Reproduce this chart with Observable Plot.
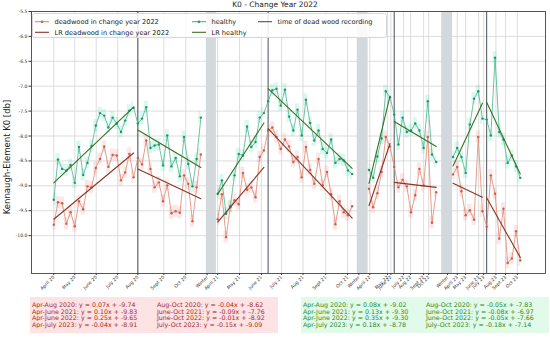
<!DOCTYPE html>
<html><head><meta charset="utf-8">
<script src="https://cdn.jsdelivr.net/npm/d3@7"></script>
<script src="https://cdn.jsdelivr.net/npm/@observablehq/plot@0.6"></script>
<style>
body{margin:0;background:#fff;font-family:"DejaVu Sans",sans-serif;}
#wrap{position:relative;width:550px;height:340px;overflow:hidden;}
#title{position:absolute;left:0;width:550px;top:0px;text-align:center;font-size:7.5px;color:#222;line-height:10px;}
#ylab{position:absolute;left:7px;top:157px;transform:translate(-50%,-50%) rotate(-90deg);font-size:8.5px;white-space:nowrap;color:#222;}
.eqbox{position:absolute;top:297px;height:36px;}
.eq{position:absolute;font-size:6.3px;white-space:pre;line-height:6.7px;}
#legend{position:absolute;left:32px;top:13px;}
</style></head><body><div id="wrap">
<div id="chart"></div>
<div id="title">K0 - Change Year 2022</div>
<div id="ylab">Kennaugh-Element K0 [db]</div>
<svg id="legend" width="356" height="26"></svg>
</div>
<script>
// ---- data (acquisition index within each segment, values in dB) ----
const periods = ["Apr-Aug 2020","Aug-Oct 2020","Apr-June 2021","June-Oct 2021","Apr-June 2022","June-Oct 2022","Apr-July 2023","July-Oct 2023"];
const segYear = [2020,2020,2021,2021,2022,2022,2023,2023];
const segStart = [0, 20, 39, 51, 75, 81, 95, 103];
const recordingPos = [20, 51, 81, 103];
const winterStart = [36.3, 72.2, 92.3];
const winterEnd = [38.7, 74.8, 94.9];

const h20a = [-9.28,-8.47,-8.66,-8.69,-8.58,-8.94,-8.22,-8.78,-8.54,-8.20,-7.79,-7.54,-7.59,-7.83,-7.63,-7.75,-7.92,-7.69,-7.49,-7.43];
const h20b = [-7.75,-7.65,-7.42,-8.24,-8.19,-8.17,-8.59,-7.99,-8.61,-8.44,-8.81,-8.02,-8.56,-9.01,-8.46,-7.63];
const h21a = [-9.16,-8.89,-9.56,-9.41,-8.79,-8.36,-8.39,-7.81,-8.22,-8.12,-7.63,-7.54];
const h21b = [-7.30,-7.08,-7.05,-7.39,-7.07,-7.61,-7.89,-7.47,-7.99,-7.27,-7.74,-8.09,-7.89,-8.26,-8.34,-8.07,-8.54,-8.46,-8.49,-8.69,-8.76];
const h22a = [-8.68,-8.84,-8.41,-8.05,-7.10,-7.22];
const h22b = [-7.57,-8.17,-7.63,-7.92,-7.89,-7.75,-7.89,-8.24,-7.30,-8.37,-8.52];
const h23a = [-8.42,-8.24,-8.42,-8.74,-7.77,-7.25,-7.10,-7.65];
const h23b = [-7.67,-7.99,-6.43,-7.92,-8.07,-8.54,-8.39,-8.61,-8.84];

const d20a = [-9.78,-9.33,-9.35,-9.76,-9.53,-9.81,-9.31,-9.47,-9.01,-9.03,-8.64,-8.46,-8.21,-8.62,-8.38,-8.39,-8.89,-8.73,-8.36,-8.83];
const d20b = [-8.44,-8.57,-8.09,-8.66,-9.03,-8.93,-9.31,-8.99,-9.55,-9.51,-9.54,-8.79,-8.96,-9.71,-9.03,-8.37];
const d21a = [-9.67,-9.17,-10.03,-9.43,-9.29,-9.37,-8.74,-9.08,-9.03,-9.23,-8.42,-8.29];
const d21b = [-7.89,-7.83,-8.02,-8.26,-8.07,-8.21,-8.52,-8.42,-8.83,-8.22,-8.68,-8.96,-8.46,-8.99,-8.72,-9.17,-9.77,-9.31,-9.53,-9.59,-9.41];
const d22a = [-9.06,-9.43,-9.15,-8.72,-8.02,-8.21];
const d22b = [-8.62,-9.03,-8.88,-9.01,-9.53,-9.19,-8.66,-8.99,-8.02,-9.74,-9.13];
const d23a = [-8.77,-8.62,-9.11,-9.59,-9.49,-9.68,-8.02,-9.51];
const d23b = [-9.82,-8.79,-9.16,-10.06,-9.46,-10.55,-10.46,-9.91,-10.50];

const deadSlope = [0.07,-0.04,0.10,-0.09,0.25,-0.01,-0.04,-0.15];
const deadIntercept = [-9.74,-8.62,-9.83,-7.76,-9.65,-8.92,-8.91,-9.09];
const healthySlope = [0.08,-0.05,0.13,-0.08,0.35,-0.05,0.18,-0.18];
const healthyIntercept = [-9.02,-7.83,-9.30,-6.97,-9.30,-7.66,-8.78,-7.14];

const tickPos = [0,5,10.1,15.2,20,26.2,31.4,36.5,39,44.2,49.4,54.2,59.3,64.7,69.9,72.6,75.2,79.4,80.2,83.2,84.9,88,89.2,93.7,96,98,101.1,102.3,105.2,107.5,110.3];
const tickLabels = ["April 20","May 20","June 20","July 20","Aug 20","Sept 20","Oct 20","Winter","April 21","May 21","June 21","July 21","Aug 21","Sept 21","Oct 21","Winter","April 22","May 22","June 22","July 22","Aug 22","Sept 22","Oct 22","Winter","April 23","May 23","June 23","July 23","Aug 23","Sept 23","Oct 23"];
const yTicks = [-10.0,-9.5,-9.0,-8.5,-8.0,-7.5,-7.0,-6.5,-6.0,-5.5];

// ---- derived tables ----
const healthySegs = [h20a,h20b,h21a,h21b,h22a,h22b,h23a,h23b];
const deadSegs = [d20a,d20b,d21a,d21b,d22a,d22b,d23a,d23b];
const rowsOf = segs => segs.flatMap((vals,s) => vals.map((v,k) => ({u: segStart[s]+k, v, seg: s, year: segYear[s]})));
const healthy = rowsOf(healthySegs);
const dead = rowsOf(deadSegs);
const lrOf = (segs, a, b) => segs.flatMap((vals,s) => [1, vals.length].map(k => ({u: segStart[s]+k-1, v: a[s]*k + b[s], seg: s})));
const lrHealthy = lrOf(healthySegs, healthySlope, healthyIntercept);
const lrDead = lrOf(deadSegs, deadSlope, deadIntercept);
const winters = winterStart.map((s,i) => ({x1: s, x2: winterEnd[i]}));
const labelByPos = new Map(tickPos.map((p,i) => [p, tickLabels[i]]));

const G_LINE = "#45b58d", G_DOT = "#2f8f6c", G_FILL = "#3ee0b0";
const R_LINE = "#e0856f", R_DOT = "#c4624d", R_FILL = "#f08080";
const LR_G = "#3a6e24", LR_R = "#8b3524";

const chart = Plot.plot({
  width: 550, height: 292,
  marginLeft: 31, marginRight: 5, marginTop: 11, marginBottom: 19,
  style: {fontFamily: "DejaVu Sans, sans-serif", fontSize: "4.6px", background: "transparent", color: "#333"},
  x: {domain: [-5.3, 117]},
  y: {domain: [-10.76, -5.5]},
  marks: [
    Plot.gridX(tickPos, {stroke: "#d4d4d4", strokeOpacity: 1, strokeWidth: 0.8}),
    Plot.gridY(yTicks, {stroke: "#d4d4d4", strokeOpacity: 1, strokeWidth: 0.8}),
    Plot.rect(winters, {x1: "x1", x2: "x2", fill: "#d3d8dc"}),
    Plot.ruleX(recordingPos, {stroke: "#4b5157", strokeWidth: 1}),
    Plot.areaY(healthy, {x: "u", y1: d => d.v - 0.12, y2: d => d.v + 0.12, z: "seg", curve: "step", fill: G_FILL, fillOpacity: 0.2}),
    Plot.areaY(dead, {x: "u", y1: d => d.v - 0.12, y2: d => d.v + 0.12, z: "seg", curve: "step", fill: R_FILL, fillOpacity: 0.2}),
    Plot.line(dead, {x: "u", y: "v", z: "year", stroke: R_LINE, strokeWidth: 0.8}),
    Plot.line(healthy, {x: "u", y: "v", z: "year", stroke: G_LINE, strokeWidth: 0.8}),
    Plot.dot(dead, {x: "u", y: "v", r: 1.2, fill: R_DOT, stroke: null}),
    Plot.dot(healthy, {x: "u", y: "v", r: 1.2, fill: G_DOT, stroke: null}),
    Plot.line(lrDead, {x: "u", y: "v", z: "seg", stroke: LR_R, strokeWidth: 1.1}),
    Plot.line(lrHealthy, {x: "u", y: "v", z: "seg", stroke: LR_G, strokeWidth: 1.1}),
    Plot.axisX(tickPos, {tickFormat: d => labelByPos.get(d), tickRotate: -45, tickSize: 2, tickPadding: 1, label: null}),
    Plot.axisY(yTicks, {tickFormat: d => d.toFixed(1), tickSize: 2.5, tickPadding: 1.5, label: null}),
    Plot.frame({stroke: "#444", strokeWidth: 0.9})
  ]
});
document.getElementById("chart").appendChild(chart);

// ---- legend ----
const lg = d3.select("#legend");
lg.append("rect").attr("x",0.5).attr("y",0.5).attr("width",354).attr("height",24).attr("rx",2)
  .attr("fill","rgba(255,255,255,0.85)").attr("stroke","#d8d8d8");
const legendItems = [
  {x: 3, y: 8.7, label: "deadwood in change year 2022", stroke: R_LINE, dot: R_DOT},
  {x: 160, y: 8.7, label: "healthy", stroke: G_LINE, dot: G_DOT},
  {x: 226, y: 8.7, label: "time of dead wood recording", stroke: "#4b5157"},
  {x: 3, y: 19.3, label: "LR deadwood in change year 2022", stroke: LR_R},
  {x: 160, y: 19.3, label: "LR healthy", stroke: LR_G}
];
for (const it of legendItems) {
  lg.append("line").attr("x1", it.x).attr("x2", it.x + 14).attr("y1", it.y).attr("y2", it.y)
    .attr("stroke", it.stroke).attr("stroke-width", 1.1);
  if (it.dot) lg.append("circle").attr("cx", it.x + 7).attr("cy", it.y).attr("r", 1.2).attr("fill", it.dot);
  lg.append("text").attr("x", it.x + 19.5).attr("y", it.y).attr("dy", "0.35em")
    .attr("font-size", 6.6).attr("fill", "#222").text(it.label);
}

// ---- equation boxes ----
const wrap = document.getElementById("wrap");
function eqBox(left, width, bg, color, slopes, intercepts, col2x) {
  const box = document.createElement("div");
  box.className = "eqbox";
  box.style.left = left + "px"; box.style.width = width + "px"; box.style.background = bg;
  wrap.appendChild(box);
  [0,1].forEach(c => {
    const el = document.createElement("div");
    el.className = "eq"; el.style.color = color;
    el.style.left = (c === 0 ? 2 : col2x) + "px"; el.style.top = "5px";
    el.textContent = [0,1,2,3].map(r => {
      const s = r*2 + c;
      return `${periods[s]}: y = ${slopes[s].toFixed(2)}x + ${intercepts[s].toFixed(2)}`;
    }).join("\n");
    box.appendChild(el);
  });
}
eqBox(30, 248, "#fde3e3", "#a8281c", deadSlope, deadIntercept, 127);
eqBox(301, 248, "#e1faea", "#1f8a24", healthySlope, healthyIntercept, 125);
</script></body></html>
